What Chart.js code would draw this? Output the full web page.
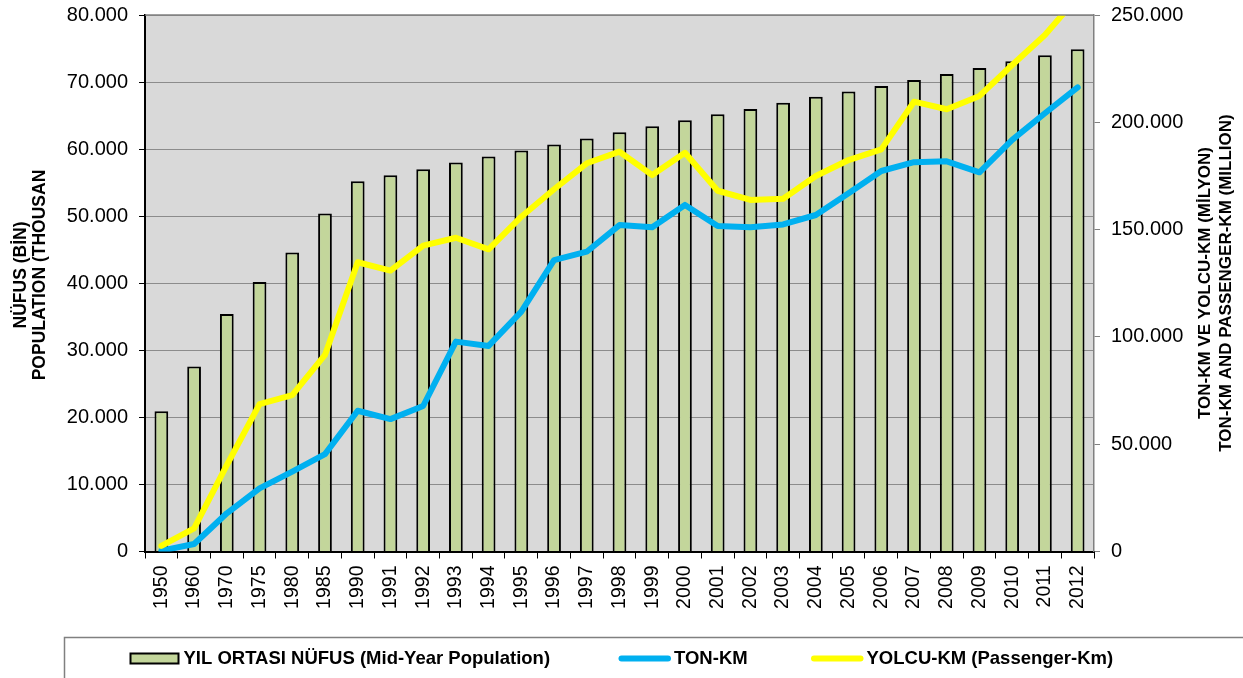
<!DOCTYPE html>
<html><head><meta charset="utf-8">
<script src="https://cdn.jsdelivr.net/npm/chart.js@4.4.1/dist/chart.umd.min.js"></script>
<style>html,body{margin:0;padding:0;background:#fff;}#wrap{width:1243px;height:678px;}</style>
</head><body><div id="wrap"><canvas id="c" width="1243" height="678"></canvas></div>
<script>
const categories = ['1950','1960','1970','1975','1980','1985','1990','1991','1992','1993','1994','1995','1996','1997','1998','1999','2000','2001','2002','2003','2004','2005','2006','2007','2008','2009','2010','2011','2012'];
const population = [20900,27600,35400,40200,44600,50400,55200,56100,57000,58000,58900,59800,60700,61600,62500,63400,64300,65200,66000,66900,67800,68600,69400,70300,71200,72100,73100,74000,74900];
const tonKm = [400,3500,17800,29400,37200,45400,65600,61700,67800,97800,95800,111800,135800,139700,152100,151100,161500,151700,151100,152400,156800,166900,177300,181400,181800,176700,191800,204200,216300];
const passengerKm = [2600,10800,40300,68700,72900,91600,134800,130900,142500,146200,140800,156000,168800,180900,186300,175400,185800,168100,163800,164400,175000,182400,187400,209600,206100,212300,226700,240700,258300];
const leftTicks = [0,10000,20000,30000,40000,50000,60000,70000,80000];
const rightTicks = [0,50000,100000,150000,200000,250000];
const leftTitle = ['NÜFUS (BİN)','POPULATION (THOUSAN'];
const rightTitle = ['TON-KM VE YOLCU-KM (MİLYON)','TON-KM AND PASSENGER-KM (MILLION)'];
const legendLabels = ['YIL ORTASI NÜFUS (Mid-Year Population)','TON-KM','YOLCU-KM (Passenger-Km)'];

const FONT = '"Liberation Sans", Arial, sans-serif';
const BAR_FILL = '#c3d69b', BLUE = '#00b0f0', YELLOW = '#ffff00';
const fmt = v => String(v).replace(/\B(?=(\d{3})+(?!\d))/g, '.');

const decor = {
  id: 'decor',
  beforeDraw(chart) {
    const {ctx, chartArea: a} = chart;
    ctx.save();
    ctx.fillStyle = '#d9d9d9';
    ctx.fillRect(a.left, a.top, a.right - a.left, a.bottom - a.top);
    ctx.restore();
  },
  afterDraw(chart) {
    const {ctx, chartArea: a} = chart;
    ctx.save();
    ctx.strokeStyle = '#808080'; ctx.lineWidth = 1.5;
    ctx.beginPath(); ctx.moveTo(a.left, a.top); ctx.lineTo(a.right, a.top); ctx.stroke();
    ctx.fillStyle = '#000';
    ctx.font = 'bold 17.5px ' + FONT;
    ctx.textAlign = 'center'; ctx.textBaseline = 'middle';
    const drawRot = (txt, x, y) => { ctx.save(); ctx.translate(x, y); ctx.rotate(-Math.PI/2); ctx.fillText(txt, 0, 0); ctx.restore(); };
    drawRot(leftTitle[0], 21, 275);
    drawRot(leftTitle[1], 40, 275);
    ctx.font = 'bold 17px ' + FONT;
    drawRot(rightTitle[0], 1205, 283);
    drawRot(rightTitle[1], 1226, 283);
    ctx.strokeStyle = '#808080'; ctx.lineWidth = 1.5;
    ctx.strokeRect(64.5, 637.5, 1300, 100);
    const ly = 658.5;
    ctx.fillStyle = BAR_FILL; ctx.strokeStyle = '#000'; ctx.lineWidth = 2;
    ctx.fillRect(130, 653.5, 49, 10); ctx.strokeRect(130.5, 653.5, 48, 10);
    ctx.lineCap = 'round'; ctx.lineWidth = 6;
    ctx.strokeStyle = BLUE; ctx.beginPath(); ctx.moveTo(621.5, ly); ctx.lineTo(668, ly); ctx.stroke();
    ctx.strokeStyle = YELLOW; ctx.beginPath(); ctx.moveTo(814, ly); ctx.lineTo(860.5, ly); ctx.stroke();
    ctx.fillStyle = '#000'; ctx.font = 'bold 18.5px ' + FONT;
    ctx.textAlign = 'left'; ctx.textBaseline = 'middle';
    ctx.fillText(legendLabels[0], 183.5, ly + 0.5);
    ctx.fillText(legendLabels[1], 674, ly + 0.5);
    ctx.fillText(legendLabels[2], 866.5, ly + 0.5);
    ctx.restore();
  }
};

new Chart(document.getElementById('c'), {
  data: {
    labels: categories,
    datasets: [
      { type: 'line', label: legendLabels[2], data: passengerKm, yAxisID: 'y2', borderColor: YELLOW, borderWidth: 6, pointRadius: 0, tension: 0, borderJoinStyle: 'round', borderCapStyle: 'round', order: 1 },
      { type: 'line', label: legendLabels[1], data: tonKm, yAxisID: 'y2', borderColor: BLUE, borderWidth: 6, pointRadius: 0, tension: 0, borderJoinStyle: 'round', borderCapStyle: 'round', order: 2 },
      { type: 'bar', label: legendLabels[0], data: population, yAxisID: 'y', backgroundColor: BAR_FILL, borderColor: '#000', borderWidth: 2, barPercentage: 0.42, categoryPercentage: 1, order: 3 }
    ]
  },
  options: {
    responsive: false, animation: false, devicePixelRatio: 1,
    layout: { padding: { left: 0, right: 0, top: 15, bottom: 68 } },
    plugins: { legend: { display: false }, tooltip: { enabled: false } },
    scales: {
      x: {
        offset: true,
        afterFit: s => { s.height = 58.5; },
        grid: { offset: true, drawOnChartArea: false, drawTicks: true, tickLength: 7, tickColor: '#000', lineWidth: 1 },
        border: { color: '#000', width: 2 },
        ticks: { maxRotation: 90, minRotation: 90, autoSkip: false, padding: 7, color: '#000', font: { family: FONT, size: 19.5 } }
      },
      y: {
        position: 'left', min: 0, max: 80000,
        afterBuildTicks: s => { s.ticks = leftTicks.map(v => ({ value: v })); },
        afterFit: s => { s.width = 145; s.paddingTop = 0; s.paddingBottom = 0; },
        grid: { color: '#8c8c8c', lineWidth: 1, tickLength: 6, tickColor: '#000' },
        border: { color: '#000', width: 2 },
        ticks: { padding: 11, color: '#000', font: { family: FONT, size: 20 }, callback: v => fmt(v) }
      },
      y2: {
        position: 'right', min: 0, max: 250000,
        afterBuildTicks: s => { s.ticks = rightTicks.map(v => ({ value: v })); },
        afterFit: s => { s.width = 149; s.paddingTop = 0; s.paddingBottom = 0; },
        grid: { drawOnChartArea: false, tickLength: 6, tickColor: '#808080' },
        border: { color: '#808080', width: 1.5 },
        ticks: { padding: 11, color: '#000', font: { family: FONT, size: 20 }, callback: v => fmt(v) }
      }
    }
  },
  plugins: [decor]
});
</script></body></html>
